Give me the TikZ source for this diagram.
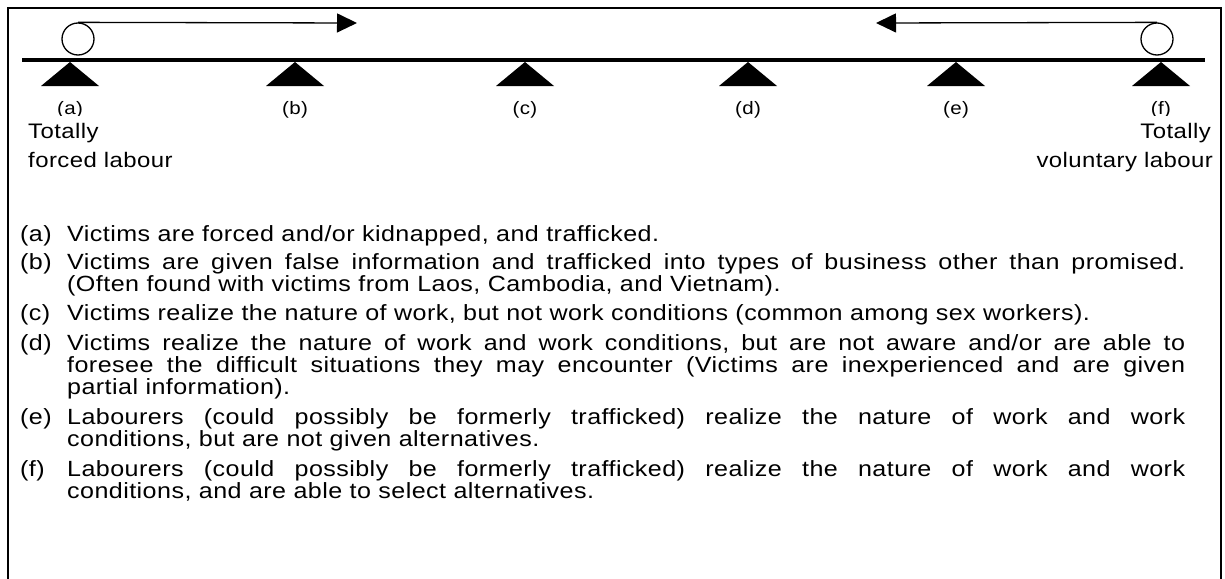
\documentclass[tikz,border=0pt]{standalone}
\usepackage{fontspec}
\setmainfont{Liberation Sans}[FakeStretch=1.14, LetterSpace=2]
\usetikzlibrary{arrows.meta,positioning}

\tikzset{
    txt/.style={inner sep=0pt, font=\fontsize{22}{22}\selectfont},
    endtxt/.style={inner sep=0pt, font=\fontsize{21}{22}\selectfont},
    para/.style={txt, anchor=base west, text width=1118pt, align=justify,
        execute at begin node={\hyphenpenalty=10000\frenchspacing}},
    tick/.style={inner sep=0pt, font=\fontsize{18}{20}\selectfont, anchor=base},
    ball/.style={draw, circle, line width=1.3pt, minimum size=32pt, inner sep=0pt},
    push/.style={-{Triangle[length=20pt,width=19pt]}, line width=1.3pt},
}

\begin{document}
\begin{tikzpicture}[x=1pt, y=-1pt]
        \useasboundingbox (0,0) rectangle (1225,578);
        \draw[line width=2pt] (8,600) -- (8,8) -- (1221,8) -- (1221,600);

        % the beam and its pivots
        \draw[line width=4pt] (22,60) -- (1205,60);
        \foreach \name/\x in {a/70, b/295, c/525, d/748, e/956, f/1161} {
            \coordinate (p\name) at (\x,62);
            \fill (p\name) -- ++(29,24) -- ++(-58,0) -- cycle;
            \node[tick] (l\name) at (\x,114) {(\name)};
        }

        \node[ball] (ballA) at (78,39) {};
        \node[ball] (ballF) at (1157,39) {};
        \coordinate (tipA) at (357,23);
        \coordinate (tipF) at (876,23);
        \draw[push] (ballA.north) -- (tipA);
        \draw[push] (ballF.north) -- (tipF);

        % end labels (they hide the bottom of (a) and (f))
        \node[endtxt, anchor=base west, fill=white, text height=22pt] (forcedA) at (28,138) {Totally};
        \node[endtxt, anchor=base west] (forcedB) at (28,167) {forced labour};
        \node[endtxt, anchor=base east, fill=white, text height=22pt] (volA) at (1211,138) {Totally};
        \node[endtxt, anchor=base east] (volB) at (1213,167) {voluntary labour};

        % the key
        \node[txt, anchor=base west] (ka) at (20,241) {(a)};
        \node[para] (ta) at (67,241) {Victims are forced and/or kidnapped, and trafficked.};
        \node[txt, anchor=base west] (kb) at (20,269) {(b)};
        \node[para] (tb) at (67,269) {Victims are given false information and trafficked into types of business other than promised.\linebreak (Often found with victims from Laos, Cambodia, and Vietnam).};
        \node[txt, anchor=base west] (kc) at (20,320) {(c)};
        \node[para] (tc) at (67,320) {Victims realize the nature of work, but not work conditions (common among sex workers).};
        \node[txt, anchor=base west] (kd) at (20,350) {(d)};
        \node[para] (td) at (67,350) {Victims realize the nature of work and work conditions, but are not aware and/or are able to\linebreak foresee the difficult situations they may encounter (Victims are inexperienced and are given\linebreak partial information).};
        \node[txt, anchor=base west] (ke) at (20,424) {(e)};
        \node[para] (te) at (67,424) {Labourers (could possibly be formerly trafficked) realize the nature of work and work\linebreak conditions, but are not given alternatives.};
        \node[txt, anchor=base west] (kf) at (20,476) {(f)};
        \node[para] (tf) at (67,476) {Labourers (could possibly be formerly trafficked) realize the nature of work and work\linebreak conditions, and are able to select alternatives.};
    \end{tikzpicture}
\end{document}
